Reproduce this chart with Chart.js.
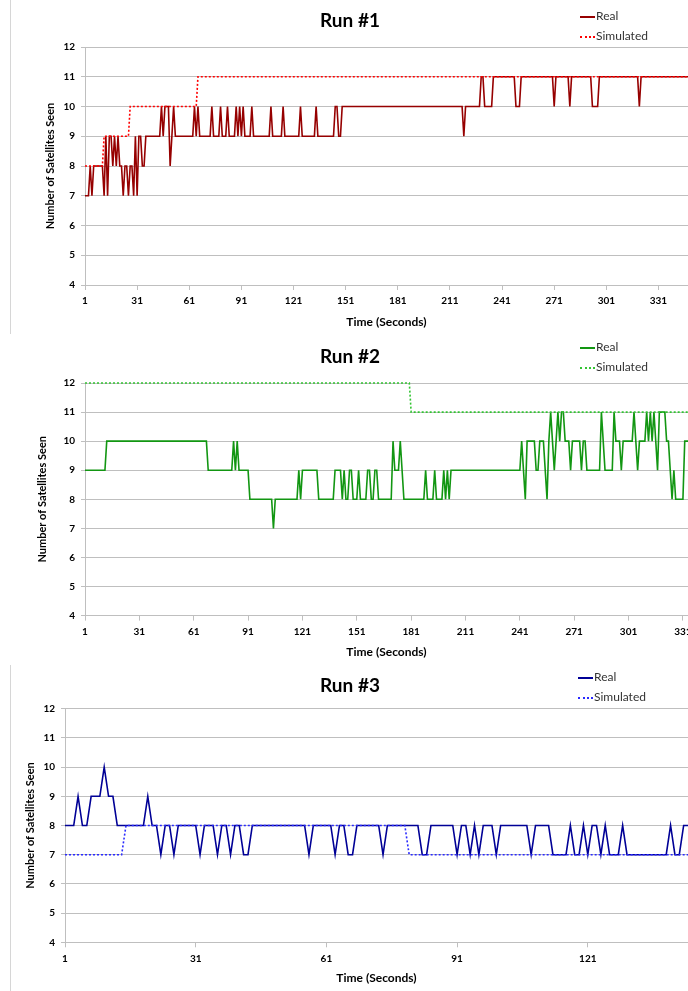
<!DOCTYPE html>
<html>
<head>
<meta charset="utf-8">
<script src="https://cdn.jsdelivr.net/npm/chart.js@4.4.1/dist/chart.umd.min.js"></script>
<style>
  html, body { margin: 0; padding: 0; background: #fff; }
  body { width: 688px; height: 991px; position: relative; overflow: hidden; font-family: Lato, "Open Sans", sans-serif; }
  .panel { position: absolute; left: 0; width: 688px; overflow: hidden; }
  .frame { position: absolute; border: 1px solid #d6d6d6; }
  .title { position: absolute; left: 0; width: 700px; text-align: center; font-weight: bold; font-size: 19px; line-height: 24px; color: #000; }
  .legend { position: absolute; font-size: 12px; line-height: 20px; color: #333; }
  .legend .sw { display: inline-block; width: 15px; height: 0; vertical-align: middle; margin-right: 1px; }
  canvas { position: absolute; left: 0; top: 0; }
</style>
</head>
<body>

<div class="panel" style="top:0px;height:334px;">
  <div class="frame" style="left:10px;top:-1px;width:700px;height:334px;"></div>
  <canvas id="run1" width="688" height="334"></canvas>
  <div class="title" style="top:8px;">Run #1</div>
  <div class="legend" style="left:580px;top:6px;">
    <div><span class="sw" style="border-top:2px solid #960000;"></span>Real</div>
    <div><span class="sw" style="border-top:2px dotted #ff0000;"></span>Simulated</div>
  </div>
</div>

<div class="panel" style="top:337px;height:326px;">
  <div class="frame" style="left:-1px;top:-1px;width:700px;height:326px;"></div>
  <canvas id="run2" width="688" height="326"></canvas>
  <div class="title" style="top:7px;">Run #2</div>
  <div class="legend" style="left:580px;top:0px;">
    <div><span class="sw" style="border-top:2px solid #129612;"></span>Real</div>
    <div><span class="sw" style="border-top:2px dotted #33c433;"></span>Simulated</div>
  </div>
</div>

<div class="panel" style="top:665px;height:326px;">
  <div class="frame" style="left:10px;top:-1px;width:700px;height:330px;"></div>
  <canvas id="run3" width="688" height="326"></canvas>
  <div class="title" style="top:8px;">Run #3</div>
  <div class="legend" style="left:578px;top:2px;">
    <div><span class="sw" style="border-top:2px solid #000096;"></span>Real</div>
    <div><span class="sw" style="border-top:2px dotted #2a2aff;"></span>Simulated</div>
  </div>
</div>

<script>
// tick labels on the time axis
const ticksLong = [1, 31, 61, 91, 121, 151, 181, 211, 241, 271, 301, 331];
const ticksShort = [1, 31, 61, 91, 121];

// Run #1 - satellites seen per second
const run1Real = [
  7,7,7,8,7,8,8,8,8,8, 8,7,9,7,9,9,8,9,8,9, 8,8,7,8,8,7,8,8,7,9,
  7,9,9,8,8,9,9,9,9,9, 9,9,9,9,10,9,10,10,10,8, 9,10,9,9,9,9,9,9,9,9,
  9,9,9,10,9,10,9,9,9,9, 9,9,9,10,9,9,9,9,10,9, 9,9,10,9,9,9,9,10,9,10,
  9,10,9,9,9,9,10,9,9,9, 9,9,9,9,9,9,9,10,9,9, 9,9,9,9,10,9,9,9,9,9,
  9,9,9,9,10,9,9,9,9,9, 9,9,9,10,9,9,9,9,9,9, 9,9,9,9,10,10,9,9,10,10,
  10,10,10,10,10,10,10,10,10,10, 10,10,10,10,10,10,10,10,10,10, 10,10,10,10,10,10,10,10,10,10,
  10,10,10,10,10,10,10,10,10,10, 10,10,10,10,10,10,10,10,10,10, 10,10,10,10,10,10,10,10,10,10,
  10,10,10,10,10,10,10,10,9,10, 10,10,10,10,10,10,10,10,11,11, 10,10,10,10,10,11,11,11,11,11,
  11,11,11,11,11,11,11,11,10,10, 10,11,11,11,11,11,11,11,11,11, 11,11,11,11,11,11,11,11,11,11,
  10,11,11,11,11,11,11,11,11,10, 11,11,11,11,11,11,11,11,11,11, 11,11,10,10,10,10,11,11,11,11,
  11,11,11,11,11,11,11,11,11,11, 11,11,11,11,11,11,11,11,11,10, 11,11,11,11,11,11,11,11,11,11,
  11,11,11,11,11,11,11,11,11,11, 11,11,11,11,11,11,11,11
];
const run1Sim = [
  8,8,8,8,8,8,8,8,8,8, 8,9,9,9,9,9,9,9,9,9, 9,9,9,9,9,9,10,10,10,10,
  10,10,10,10,10,10,10,10,10,10, 10,10,10,10,10,10,10,10,10,10, 10,10,10,10,10,10,10,10,10,10,
  10,10,10,10,10,11,11,11,11,11, 11,11,11,11,11,11,11,11,11,11, 11,11,11,11,11,11,11,11,11,11,
  11,11,11,11,11,11,11,11,11,11, 11,11,11,11,11,11,11,11,11,11, 11,11,11,11,11,11,11,11,11,11,
  11,11,11,11,11,11,11,11,11,11, 11,11,11,11,11,11,11,11,11,11, 11,11,11,11,11,11,11,11,11,11,
  11,11,11,11,11,11,11,11,11,11, 11,11,11,11,11,11,11,11,11,11, 11,11,11,11,11,11,11,11,11,11,
  11,11,11,11,11,11,11,11,11,11, 11,11,11,11,11,11,11,11,11,11, 11,11,11,11,11,11,11,11,11,11,
  11,11,11,11,11,11,11,11,11,11, 11,11,11,11,11,11,11,11,11,11, 11,11,11,11,11,11,11,11,11,11,
  11,11,11,11,11,11,11,11,11,11, 11,11,11,11,11,11,11,11,11,11, 11,11,11,11,11,11,11,11,11,11,
  11,11,11,11,11,11,11,11,11,11, 11,11,11,11,11,11,11,11,11,11, 11,11,11,11,11,11,11,11,11,11,
  11,11,11,11,11,11,11,11,11,11, 11,11,11,11,11,11,11,11,11,11, 11,11,11,11,11,11,11,11,11,11,
  11,11,11,11,11,11,11,11,11,11, 11,11,11,11,11,11,11,11
];

// Run #2
const run2Real = [
  9,9,9,9,9,9,9,9,9,9, 9,9,10,10,10,10,10,10,10,10, 10,10,10,10,10,10,10,10,10,10,
  10,10,10,10,10,10,10,10,10,10, 10,10,10,10,10,10,10,10,10,10, 10,10,10,10,10,10,10,10,10,10,
  10,10,10,10,10,10,10,10,9,9, 9,9,9,9,9,9,9,9,9,9, 9,9,10,9,10,9,9,9,9,9,
  9,8,8,8,8,8,8,8,8,8, 8,8,8,8,7,8,8,8,8,8, 8,8,8,8,8,8,8,8,9,8,
  9,9,9,9,9,9,9,9,9,8, 8,8,8,8,8,8,8,8,9,9, 9,9,8,9,8,8,9,9,8,8,
  8,9,8,8,8,8,9,9,8,8, 9,9,8,8,8,8,8,8,8,8, 10,9,9,9,10,9,8,8,8,8,
  8,8,8,8,8,8,8,8,9,8, 8,8,8,9,8,8,8,8,9,8, 9,8,9,9,9,9,9,9,9,9,
  9,9,9,9,9,9,9,9,9,9, 9,9,9,9,9,9,9,9,9,9, 9,9,9,9,9,9,9,9,9,9,
  9,10,9,8,10,10,10,10,10,9, 9,10,10,10,9,8,10,11,10,9, 10,11,10,11,11,10,10,10,9,10,
  10,10,10,10,9,10,10,9,9,9, 9,9,9,9,9,11,10,9,9,9, 9,9,11,10,10,10,9,10,10,10,
  10,10,10,11,10,9,10,10,10,10, 11,10,11,10,11,10,9,11,11,11, 11,10,10,9,8,9,8,8,8,8,
  8,10,10,10,10,10
];
const run2Sim = [
  12,12,12,12,12,12,12,12,12,12, 12,12,12,12,12,12,12,12,12,12, 12,12,12,12,12,12,12,12,12,12,
  12,12,12,12,12,12,12,12,12,12, 12,12,12,12,12,12,12,12,12,12, 12,12,12,12,12,12,12,12,12,12,
  12,12,12,12,12,12,12,12,12,12, 12,12,12,12,12,12,12,12,12,12, 12,12,12,12,12,12,12,12,12,12,
  12,12,12,12,12,12,12,12,12,12, 12,12,12,12,12,12,12,12,12,12, 12,12,12,12,12,12,12,12,12,12,
  12,12,12,12,12,12,12,12,12,12, 12,12,12,12,12,12,12,12,12,12, 12,12,12,12,12,12,12,12,12,12,
  12,12,12,12,12,12,12,12,12,12, 12,12,12,12,12,12,12,12,12,12, 12,12,12,12,12,12,12,12,12,12,
  11,11,11,11,11,11,11,11,11,11, 11,11,11,11,11,11,11,11,11,11, 11,11,11,11,11,11,11,11,11,11,
  11,11,11,11,11,11,11,11,11,11, 11,11,11,11,11,11,11,11,11,11, 11,11,11,11,11,11,11,11,11,11,
  11,11,11,11,11,11,11,11,11,11, 11,11,11,11,11,11,11,11,11,11, 11,11,11,11,11,11,11,11,11,11,
  11,11,11,11,11,11,11,11,11,11, 11,11,11,11,11,11,11,11,11,11, 11,11,11,11,11,11,11,11,11,11,
  11,11,11,11,11,11,11,11,11,11, 11,11,11,11,11,11,11,11,11,11, 11,11,11,11,11,11,11,11,11,11,
  11,11,11,11,11,11
];

// Run #3
const run3Real = [
  8,8,8,9,8,8,9,9,9,10, 9,9,8,8,8,8,8,8,8,9, 8,8,7,8,8,7,8,8,8,8,
  8,7,8,8,8,7,8,8,7,8, 8,7,7,8,8,8,8,8,8,8, 8,8,8,8,8,8,7,8,8,8,
  8,8,7,8,8,7,7,8,8,8, 8,8,8,7,8,8,8,8,8,8, 8,8,7,7,8,8,8,8,8,8,
  7,8,8,7,8,7,8,8,8,7, 8,8,8,8,8,8,8,7,8,8, 8,8,7,7,7,7,8,7,7,8,
  7,8,8,7,8,7,7,7,8,7, 7,7,7,7,7,7,7,7,7,8, 7,7,8,8
];
const run3Sim = [
  7,7,7,7,7,7,7,7,7,7, 7,7,7,7,8,8,8,8,8,8, 8,8,8,8,8,8,8,8,8,8,
  8,8,8,8,8,8,8,8,8,8, 8,8,8,8,8,8,8,8,8,8, 8,8,8,8,8,8,8,8,8,8,
  8,8,8,8,8,8,8,8,8,8, 8,8,8,8,8,8,8,8,8,7, 7,7,7,7,7,7,7,7,7,7,
  7,7,7,7,7,7,7,7,7,7, 7,7,7,7,7,7,7,7,7,7, 7,7,7,7,7,7,7,7,7,7,
  7,7,7,7,7,7,7,7,7,7, 7,7,7,7,7,7,7,7,7,7, 7,7,7,7
];

const FONT = "Lato, 'Open Sans', sans-serif";
const GRID = "#bfbfbf";

function makeRun(id, real, sim, xTicks, p) {
  const ctx = document.getElementById(id).getContext("2d");
  const pts = (arr) => arr.map((v, i) => ({ x: i + 1, y: v }));
  const padLeft = p.yTitleX - 6.6;
  new Chart(ctx, {
    type: "line",
    data: {
      datasets: [
        { label: "Real", data: pts(real), borderColor: p.realColor, borderWidth: 1.6, pointRadius: 0, order: 1, clip: 4 },
        { label: "Simulated", data: pts(sim), borderColor: p.simColor, borderWidth: 1.6, borderDash: [2, 2], pointRadius: 0, order: 0, clip: 4 },
      ],
    },
    options: {
      responsive: false,
      animation: false,
      devicePixelRatio: 1,
      layout: { padding: { left: padLeft, top: p.top, right: 0, bottom: 0 } },
      elements: { line: { tension: 0 } },
      plugins: {
        legend: { display: false },
        tooltip: { enabled: false },
      },
      scales: {
        x: {
          type: "linear",
          min: 1,
          max: p.xMax,
          afterBuildTicks: (s) => { s.ticks = xTicks.map((v) => ({ value: v })); },
          afterFit: (s) => { s.height = p.h - p.bottom; s.paddingRight = 0; },
          grid: { drawOnChartArea: false, tickLength: 5, color: GRID },
          border: { color: GRID },
          ticks: { padding: 5, maxRotation: 0, color: "#000", font: { family: FONT, weight: "bold", size: 10 } },
          title: {
            display: true, text: "Time (Seconds)", color: "#000",
            font: { family: FONT, weight: "bold", size: 12 },
            padding: { top: 0, bottom: p.xTitlePad },
          },
        },
        y: {
          min: 4,
          max: 12,
          afterFit: (s) => { s.width = p.left - padLeft; },
          grid: { color: GRID, tickLength: 4 },
          border: { color: GRID },
          ticks: { stepSize: 1, padding: 6, color: "#000", font: { family: FONT, weight: "bold", size: 10 } },
          title: {
            display: true, text: "Number of Satellites Seen", color: "#000",
            font: { family: FONT, weight: "bold", size: 11 },
            padding: 0,
          },
        },
      },
    },
  });
}

makeRun("run1", run1Real, run1Sim, ticksLong, {
  top: 47, bottom: 285, left: 85, h: 334, yTitleX: 50, xMax: 348, xTitlePad: 4.8,
  realColor: "#960000", simColor: "#ff0000",
});
makeRun("run2", run2Real, run2Sim, ticksLong, {
  top: 46, bottom: 278.6, left: 85, h: 326, yTitleX: 42, xMax: 333.8, xTitlePad: 3.8,
  realColor: "#129612", simColor: "#33c433",
});
makeRun("run3", run3Real, run3Sim, ticksShort, {
  top: 43.7, bottom: 277.3, left: 65, h: 326, yTitleX: 30, xMax: 144, xTitlePad: 5.8,
  realColor: "#000096", simColor: "#2a2aff",
});
</script>
</body>
</html>
